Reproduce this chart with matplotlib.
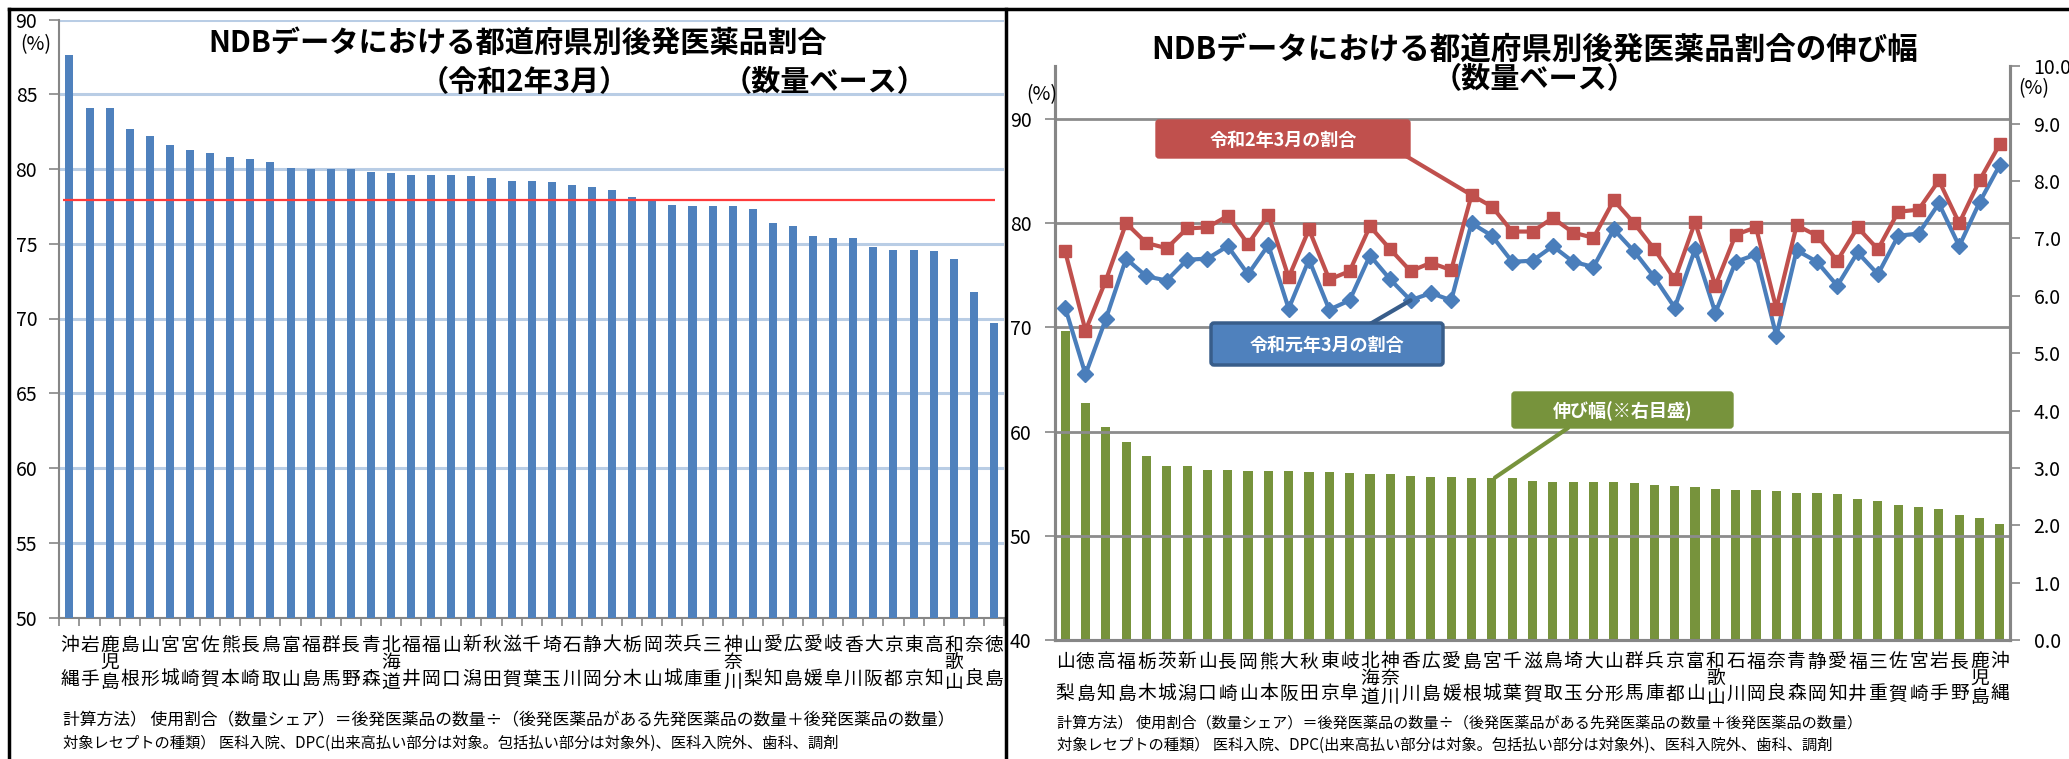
import matplotlib
matplotlib.use("Agg")
import matplotlib.pyplot as plt
import numpy as np
from matplotlib.transforms import blended_transform_factory
from matplotlib.patches import FancyBboxPatch, ConnectionPatch
from matplotlib.lines import Line2D

plt.rcParams['font.family'] = ['Noto Sans CJK JP', 'DejaVu Sans']

# ---- data: share of generics by prefecture, March of Reiwa 2 (sorted) ----
prefs_r2 = ['沖縄', '岩手', '鹿児島', '島根', '山形', '宮城', '宮崎', '佐賀', '熊本', '長崎',
            '鳥取', '富山', '福島', '群馬', '長野', '青森', '北海道', '福井', '福岡', '山口',
            '新潟', '秋田', '滋賀', '千葉', '埼玉', '石川', '静岡', '大分', '栃木', '岡山',
            '茨城', '兵庫', '三重', '神奈川', '山梨', '愛知', '広島', '愛媛', '岐阜', '香川',
            '大阪', '京都', '東京', '高知', '和歌山', '奈良', '徳島']
share_r2 = [87.6, 84.1, 84.1, 82.7, 82.2, 81.6, 81.3, 81.1, 80.8, 80.7,
            80.5, 80.1, 80.0, 80.0, 80.0, 79.8, 79.7, 79.6, 79.6, 79.6,
            79.5, 79.4, 79.2, 79.2, 79.1, 78.9, 78.8, 78.6, 78.1, 78.0,
            77.6, 77.5, 77.5, 77.5, 77.3, 76.4, 76.2, 75.5, 75.4, 75.4,
            74.8, 74.6, 74.6, 74.5, 74.0, 71.8, 69.7]
national_avg = 77.9

# ---- data: growth of the share (sorted by growth) ----
prefs_growth = ['山梨', '徳島', '高知', '福島', '栃木', '茨城', '新潟', '山口', '長崎', '岡山',
                '熊本', '大阪', '秋田', '東京', '岐阜', '北海道', '神奈川', '香川', '広島', '愛媛',
                '島根', '宮城', '千葉', '滋賀', '鳥取', '埼玉', '大分', '山形', '群馬', '兵庫',
                '京都', '富山', '和歌山', '石川', '福岡', '奈良', '青森', '静岡', '愛知', '福井',
                '三重', '佐賀', '宮崎', '岩手', '長野', '鹿児島', '沖縄']
share_r1 = [71.9, 65.5, 70.8, 76.6, 74.9, 74.5, 76.5, 76.6, 77.8, 75.1,
            77.9, 71.8, 76.5, 71.7, 72.6, 76.9, 74.6, 72.6, 73.3, 72.6,
            80.0, 78.8, 76.3, 76.4, 77.8, 76.3, 75.8, 79.4, 77.3, 74.8,
            71.9, 77.5, 71.4, 76.3, 77.0, 69.2, 77.4, 76.3, 74.0, 77.2,
            75.1, 78.8, 79.0, 81.9, 77.8, 82.0, 85.6]
growth = [5.39, 4.14, 3.71, 3.46, 3.21, 3.04, 3.04, 2.97, 2.97, 2.94,
          2.94, 2.94, 2.93, 2.93, 2.92, 2.89, 2.89, 2.86, 2.85, 2.85,
          2.83, 2.83, 2.82, 2.78, 2.76, 2.76, 2.76, 2.75, 2.73, 2.71,
          2.69, 2.67, 2.64, 2.62, 2.62, 2.60, 2.57, 2.56, 2.54, 2.46,
          2.42, 2.35, 2.31, 2.28, 2.18, 2.12, 2.03]
r2_lookup = dict(zip(prefs_r2, share_r2))
share_r2_growth_order = [r2_lookup[p] for p in prefs_growth]

note1 = '計算方法） 使用割合（数量シェア）＝後発医薬品の数量÷（後発医薬品がある先発医薬品の数量＋後発医薬品の数量）'
note2 = '対象レセプトの種類） 医科入院、DPC(出来高払い部分は対象。包括払い部分は対象外)、医科入院外、歯科、調剤'

W, H = 2069, 759
fig = plt.figure(figsize=(W / 100, H / 100), dpi=100)


def fx(px):
    return px / W


def fy(py):
    return 1 - py / H


GREY = '#868686'


def stacked_labels(ax, names, rows, size):
    tr = blended_transform_factory(ax.transData, fig.transFigure)
    r1, r2 = rows
    d = r2 - r1
    for i, name in enumerate(names):
        if len(name) == 2:
            ys = [r1, r2]
        else:
            ys = [r1, r1 + 0.52 * d, r2 + 0.1 * d]
        for ch, y in zip(name, ys):
            ax.text(i, fy(y), ch, transform=tr, ha='center', va='center',
                    fontsize=size, color='black')


def category_ticks(ax, n):
    ax.set_xticks(np.arange(-0.5, n, 1.0))
    ax.set_xticklabels([])
    ax.tick_params(axis='x', direction='out', length=6, width=1.2, color=GREY)


# ================= left panel =================
axL = fig.add_axes([fx(59.4), fy(617.5), fx(1004 - 59.4), (617.5 - 19.5) / H])
xl = np.arange(len(prefs_r2))
axL.bar(xl, share_r2, width=0.4, color='#4f81bd', zorder=3)
axL.set_xlim(-0.5, len(prefs_r2) - 0.5)
axL.set_ylim(50, 90)
axL.set_yticks(np.arange(50, 91, 5))
axL.yaxis.grid(True, color='#b9cde5', linewidth=2.2, zorder=0)
axL.set_axisbelow(True)
axL.hlines(national_avg, 0.004, 0.99, transform=blended_transform_factory(axL.transAxes, axL.transData),
           color='#ff3b3b', linewidth=1.6, zorder=4)
for s in ['top', 'right']:
    axL.spines[s].set_visible(False)
for s in ['left', 'bottom']:
    axL.spines[s].set_color(GREY)
    axL.spines[s].set_linewidth(1.5)
axL.tick_params(axis='y', direction='out', length=7, width=1.2, color=GREY,
                labelsize=14, pad=9)
category_ticks(axL, len(prefs_r2))
stacked_labels(axL, prefs_r2, (645, 679), 13.5)

fig.text(fx(36), fy(45), '(%)', ha='center', va='center', fontsize=14)
fig.text(fx(518), fy(43), 'NDBデータにおける都道府県別後発医薬品割合', ha='center', va='center',
         fontsize=21.1, fontweight='bold')
fig.text(fx(524), fy(82), '（令和2年3月）', ha='center', va='center', fontsize=21, fontweight='bold')
fig.text(fx(825), fy(82), '（数量ベース）', ha='center', va='center', fontsize=21, fontweight='bold')

fig.text(fx(63), fy(721), note1, ha='left', va='center', fontsize=12.1)
fig.text(fx(63), fy(743), note2, ha='left', va='center', fontsize=11.0)

# ================= right panel =================
pos = [fx(1055), fy(640), fx(2010 - 1055), (640 - 66.4) / H]
axM = fig.add_axes(pos)
axB = axM.twinx()
axM.set_zorder(axB.get_zorder() + 1)
axM.patch.set_visible(False)

xr = np.arange(len(prefs_growth))
axB.bar(xr, growth, width=0.45, color='#77933c', zorder=2)
axB.set_ylim(0, 10)
axB.set_yticks(np.arange(0, 10.01, 1.0))
axB.set_yticklabels([f'{v:.1f}' for v in np.arange(0, 10.01, 1.0)])
axB.tick_params(axis='y', direction='out', length=7, width=1.2, color=GREY,
                labelsize=14, pad=10)

axM.set_xlim(-0.5, len(prefs_growth) - 0.5)
axM.set_ylim(40, 95.05)
axM.set_yticks(np.arange(40, 91, 10))
axM.yaxis.grid(True, color='#8c8c8c', linewidth=2.0)
axM.tick_params(axis='y', direction='out', length=7, width=1.2, color=GREY,
                labelsize=14, pad=10)
category_ticks(axM, len(prefs_growth))
axB.set_xlim(axM.get_xlim())
axB.set_xticks([])

for a in (axM, axB):
    a.spines['top'].set_visible(False)
    for s in ['left', 'right', 'bottom']:
        a.spines[s].set_color(GREY)
        a.spines[s].set_linewidth(2.2)

axM.plot(xr, share_r1, color='#4a7ebb', linewidth=3, marker='D', markersize=8,
         markerfacecolor='#4a7ebb', markeredgecolor='#4a7ebb', zorder=4)
axM.plot(xr, share_r2_growth_order, color='#c0504d', linewidth=3, marker='s', markersize=9,
         markerfacecolor='#c0504d', markeredgecolor='#c0504d', zorder=5)

stacked_labels(axM, prefs_growth, (662, 694), 13.5)

fig.text(fx(1042), fy(95), '(%)', ha='center', va='center', fontsize=14)
fig.text(fx(2034), fy(89), '(%)', ha='center', va='center', fontsize=14)
fig.text(fx(1535), fy(50), 'NDBデータにおける都道府県別後発医薬品割合の伸び幅', ha='center', va='center',
         fontsize=22, fontweight='bold')
fig.text(fx(1535), fy(79), '（数量ベース）', ha='center', va='center', fontsize=21, fontweight='bold')

fig.text(fx(1057), fy(723), note1, ha='left', va='center', fontsize=10.9)
fig.text(fx(1057), fy(745), note2, ha='left', va='center', fontsize=11.0)


# ---- callout boxes ----
def callout_box(x0, y0, x1, y1, text, fc, ec, lw):
    box = FancyBboxPatch((x0 / 100, (H - y1) / 100), (x1 - x0) / 100, (y1 - y0) / 100,
                         boxstyle='round,pad=0,rounding_size=0.03',
                         transform=fig.dpi_scale_trans, facecolor=fc, edgecolor=ec,
                         linewidth=lw, zorder=10)
    fig.add_artist(box)
    fig.text(fx((x0 + x1) / 2), fy((y0 + y1) / 2 + 1), text, ha='center', va='center',
             color='white', fontsize=13, fontweight='bold', zorder=11)


def leader(px, py, ax, xd, yd, color):
    con = ConnectionPatch(xyA=(px, H - py), coordsA='figure pixels',
                          xyB=(xd, yd), coordsB=ax.transData,
                          color=color, linewidth=3, zorder=9)
    fig.add_artist(con)


i_red = prefs_growth.index('島根')
leader(1406, 156, axM, i_red, share_r2_growth_order[i_red], '#c0504d')
callout_box(1156, 120, 1410, 158, '令和2年3月の割合', '#c0504d', '#c0504d', 1)

i_blue = prefs_growth.index('香川')
leader(1370, 324, axM, i_blue, share_r1[i_blue], '#385d8a')
callout_box(1211, 323, 1443, 365, '令和元年3月の割合', '#4f81bd', '#385d8a', 2.5)

i_green = prefs_growth.index('宮城')
leader(1568, 428, axB, i_green + 0.15, growth[i_green], '#77933c')
callout_box(1512, 392, 1733, 428, '伸び幅(※右目盛)', '#77933c', '#77933c', 1)

# ---- panel frames ----
frame = dict(color='black', linewidth=2.5, transform=fig.transFigure, zorder=20)
fig.add_artist(Line2D([fx(9), fx(9)], [fy(9), fy(H + 5)], **frame))
fig.add_artist(Line2D([fx(9), fx(W + 5)], [fy(8.5), fy(8.5)], **frame))
fig.add_artist(Line2D([fx(1006), fx(1006)], [fy(8.5), fy(H + 5)], **frame))

fig.savefig('out.png', dpi=100)
